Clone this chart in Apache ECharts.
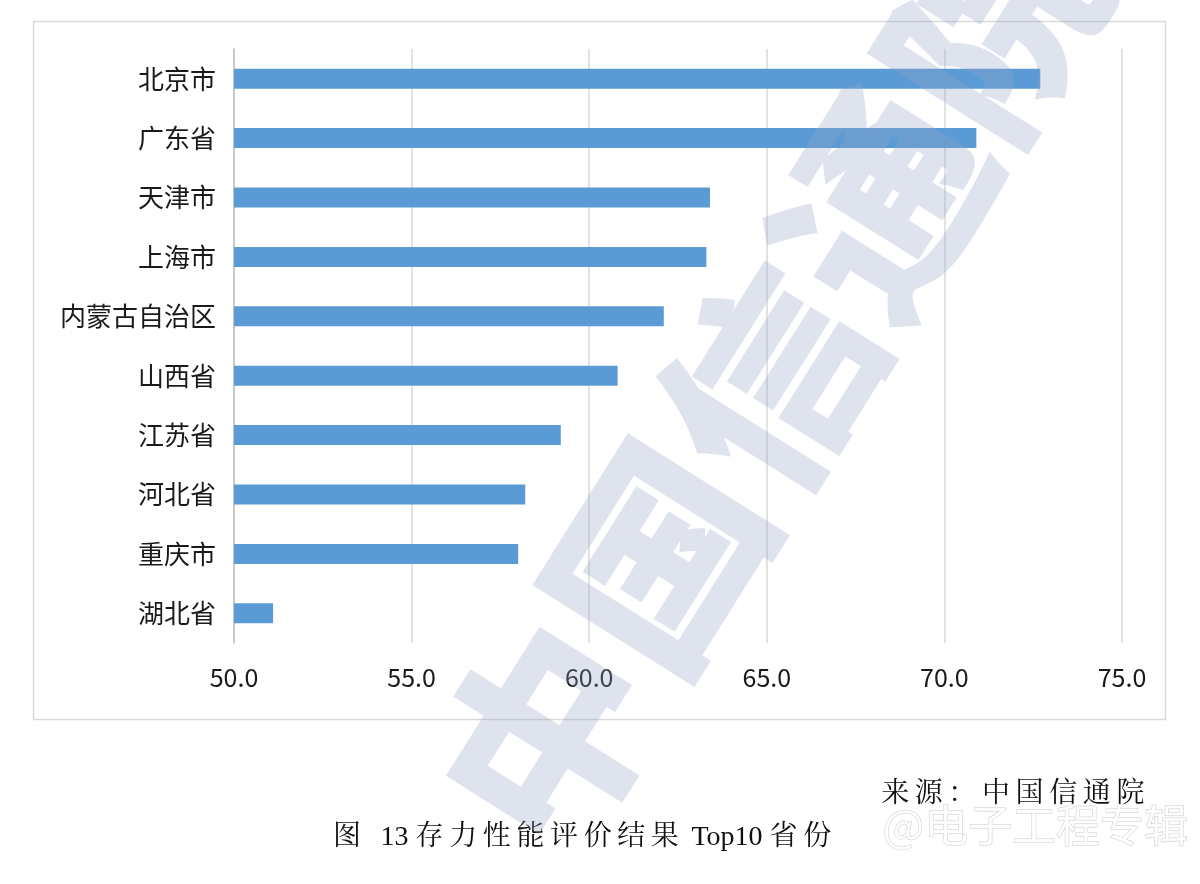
<!DOCTYPE html>
<html><head><meta charset="utf-8">
<script src="https://cdn.jsdelivr.net/npm/echarts@6/dist/echarts.min.js"></script>
<style>html,body{margin:0;padding:0;background:#fff}#c{width:1200px;height:884px}</style>
</head><body><div id="c"></div>
<script>
const categories = ['北京市','广东省','天津市','上海市','内蒙古自治区','山西省','江苏省','河北省','重庆市','湖北省'];
const values = [72.7, 70.9, 63.4, 63.3, 62.1, 60.8, 59.2, 58.2, 58.0, 51.1];
const xTicks = [50, 55, 60, 65, 70, 75];
const caption = '图  13 存力性能评价结果 Top10 省份';
const source = '来源：中国信通院';

// spread CJK characters with thin spaces
const spread = s => s.replace(/([\u3000-\u9fff\uff00-\uffef])/g, '$1\u2009');

const chart = echarts.init(document.getElementById('c'), null, {renderer:'canvas'});
const cjk = '"Noto Sans CJK SC", "Microsoft YaHei", sans-serif';
const serif = '"Liberation Serif", "Noto Serif CJK SC", "Noto Sans CJK SC", serif';
chart.setOption({
  animation: false,
  backgroundColor: '#fff',
  grid: {left: 234, right: 78, top: 49, bottom: 241, containLabel: false},
  xAxis: {
    type: 'value', min: xTicks[0], max: xTicks[xTicks.length-1], interval: 5,
    axisLine: {show: false}, axisTick: {show: false},
    splitLine: {show: true, lineStyle: {color: '#d9d9d9', width: 1.5}},
    axisLabel: {formatter: v => v.toFixed(1), fontSize: 25, color: '#1a1a1a', margin: 22, fontFamily: cjk}
  },
  yAxis: {
    type: 'category', data: categories, inverse: true,
    axisLine: {show: true, lineStyle: {color: '#bfbfbf', width: 1.5}},
    axisTick: {show: false},
    axisLabel: {fontSize: 26, color: '#1a1a1a', margin: 18, fontFamily: cjk}
  },
  series: [{
    type: 'bar', data: values, barWidth: 20,
    itemStyle: {color: '#5b9bd5'}
  }],
  graphic: [
    {type: 'rect', left: 31, top: 19, z: -1, shape: {width: 1132, height: 698},
     style: {fill: 'none', stroke: '#d9d9d9', lineWidth: 1.5}},
    {type: 'text', x: 1150, y: 795, z: 10,
     style: {text: spread(source), font: '28px ' + serif, fill: '#111', align: 'right', verticalAlign: 'middle'}},
    {type: 'text', x: 333, y: 838, z: 10,
     style: {text: spread(caption), font: '28px ' + serif, fill: '#111', align: 'left', verticalAlign: 'middle'}},
    {type: 'text', x: 770, y: 380, z: 20, rotation: 1.01,
     style: {text: '中国信通院', font: '900 210px ' + cjk, fill: 'rgba(150,162,200,0.3)', align: 'center', verticalAlign: 'middle'}},
    {type: 'text', x: 1188, y: 825, z: 21,
     style: {text: '@电子工程专辑', font: '44px ' + cjk, fill: 'rgba(255,255,255,0.85)', stroke: 'rgba(170,170,170,0.6)', lineWidth: 1, align: 'right', verticalAlign: 'middle'}}
  ]
});
</script></body></html>
